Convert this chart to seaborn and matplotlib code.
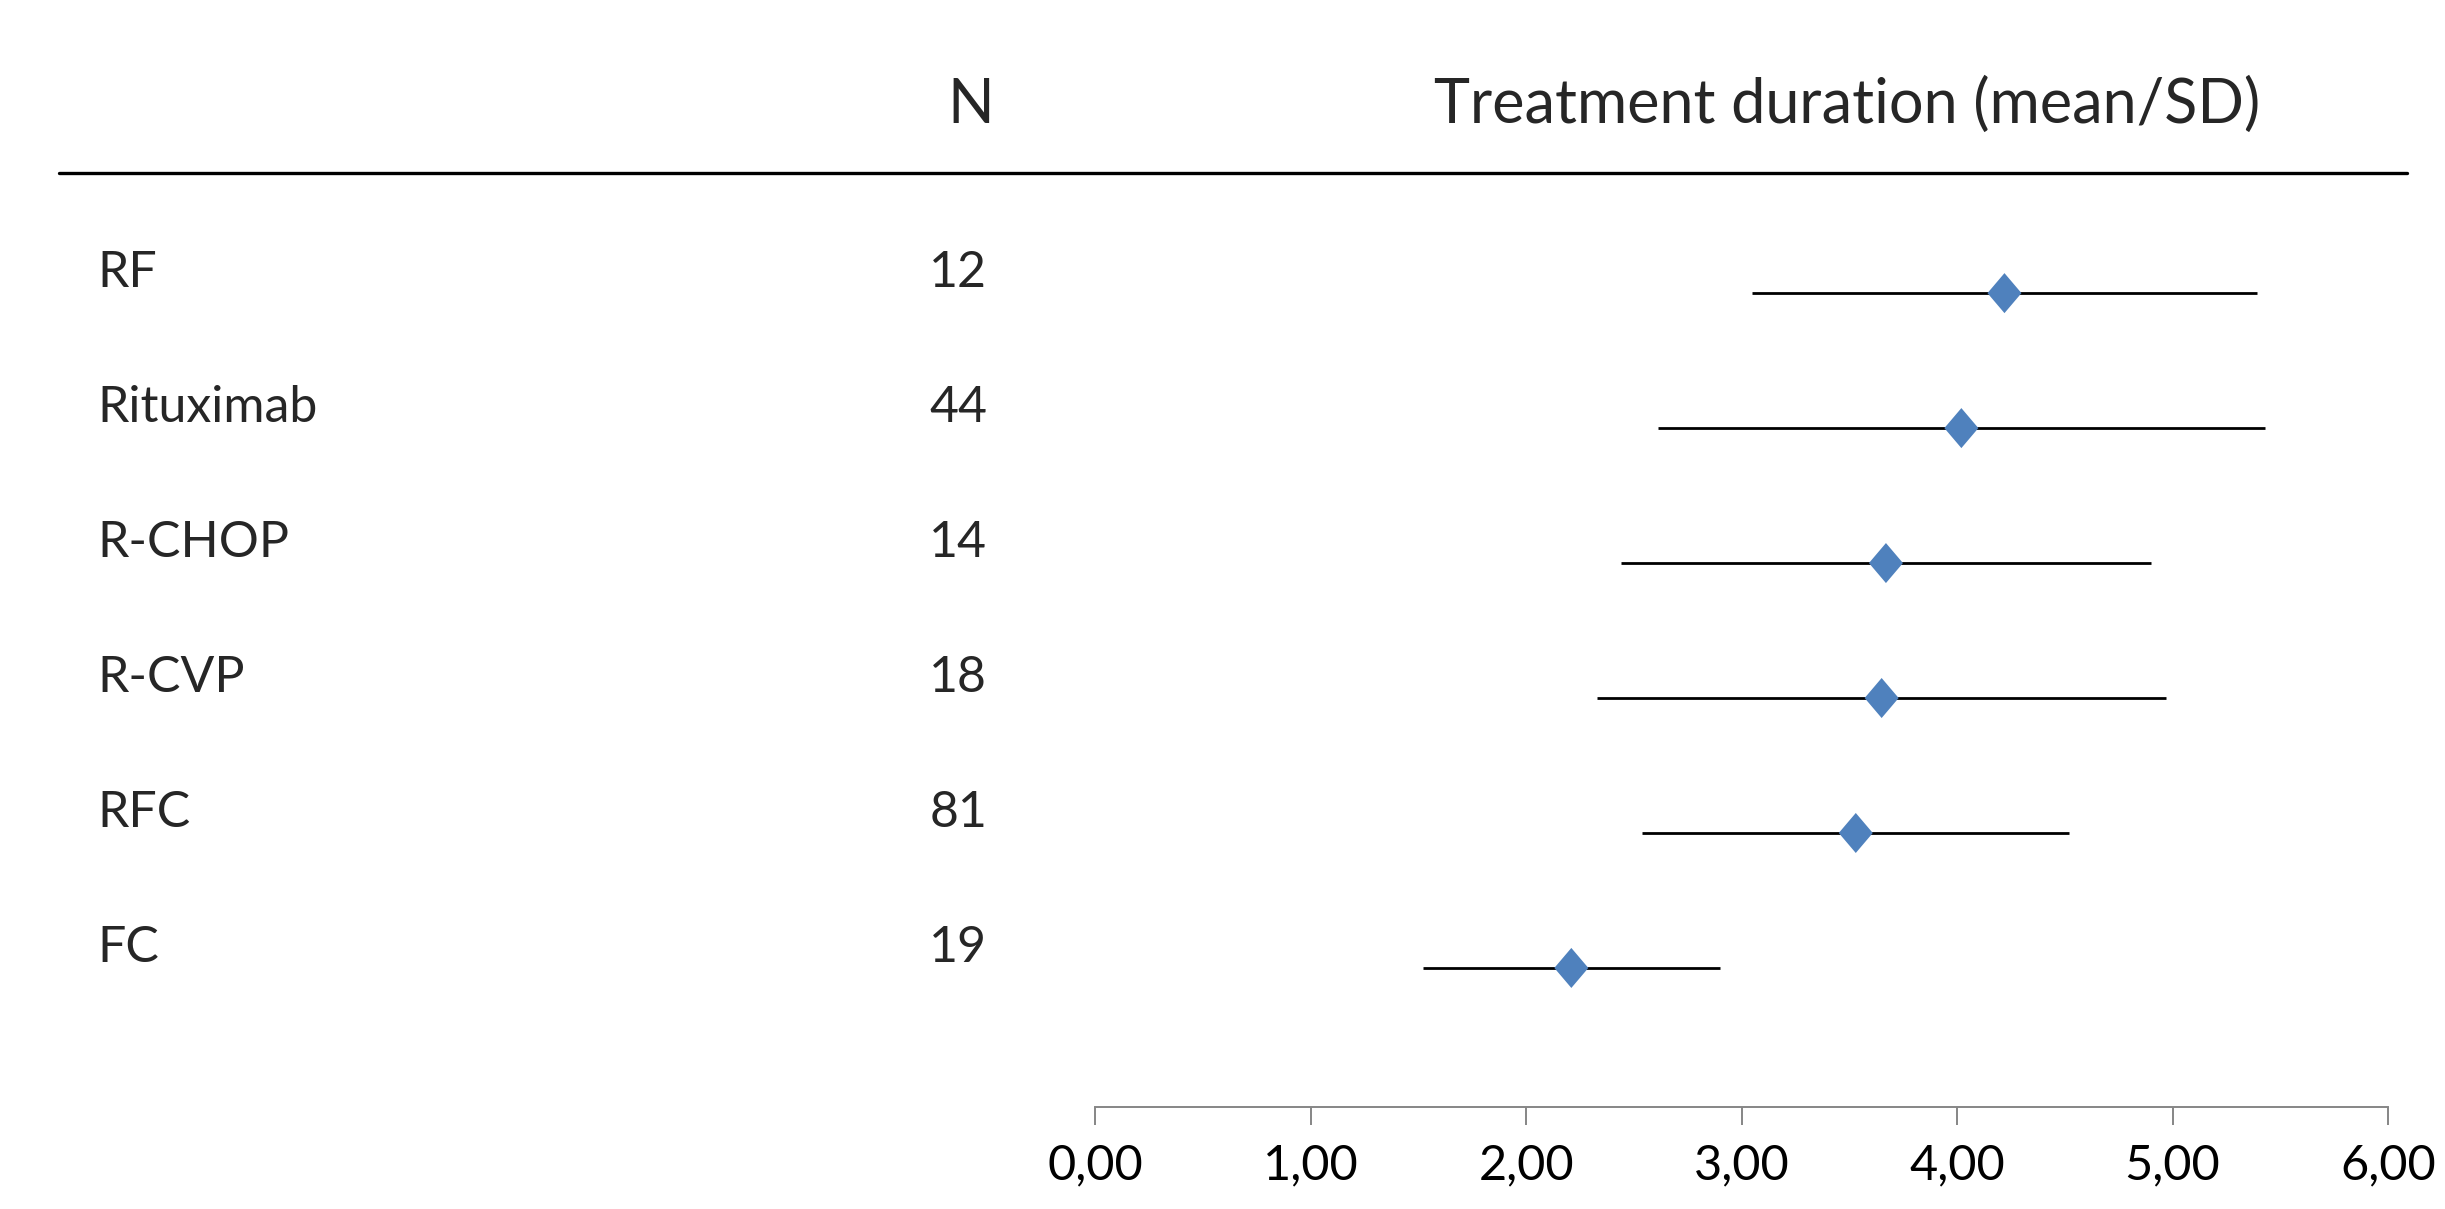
import numpy as np
import pandas as pd
import matplotlib
matplotlib.use('Agg')
import matplotlib.pyplot as plt
from matplotlib.lines import Line2D
from matplotlib.ticker import FuncFormatter
from matplotlib.transforms import blended_transform_factory
import seaborn as sns

# Werte
treatments = ['RF', 'Rituximab', 'R-CHOP', 'R-CVP', 'RFC', 'FC']
n_patients = [12, 44, 14, 18, 81, 19]
mean_duration = [4.22, 4.02, 3.67, 3.65, 3.53, 2.21]
sd_duration = [1.17, 1.41, 1.23, 1.32, 0.99, 0.69]
x_ticks = [0, 1, 2, 3, 4, 5, 6]

df = pd.DataFrame({
    'treatment': treatments,
    'n': n_patients,
    'mean': mean_duration,
    'sd': sd_duration,
})
df['row'] = np.arange(len(df))

sns.set_style('white')
plt.rcParams['font.family'] = ['Lato', 'DejaVu Sans']

fig = plt.figure(figsize=(24.45, 12.09), dpi=100)
ax = fig.add_axes([0.4479, 0.0844, 0.5288, 0.7725])

# SD-Linien
ax.hlines(df['row'], df['mean'] - df['sd'], df['mean'] + df['sd'],
          color='black', linewidth=2)

# Mittelwerte als Rauten
diamond = [(0, 1), (0.85, 0), (0, -1), (-0.85, 0)]
sns.scatterplot(data=df, x='mean', y='row', marker=diamond, s=830,
                color='#4F81BD', edgecolor='none', ax=ax, zorder=3)

ax.set_xlim(0, 6)
ax.set_ylim(6.03, -0.89)
ax.set_xticks(x_ticks)
ax.xaxis.set_major_formatter(FuncFormatter(lambda v, p: f'{v:.2f}'.replace('.', ',')))
ax.set_yticks([])
ax.set_xlabel('')
ax.set_ylabel('')
for side in ['top', 'left', 'right']:
    ax.spines[side].set_visible(False)
ax.spines['bottom'].set_color('#868686')
ax.spines['bottom'].set_linewidth(1.4)
ax.tick_params(axis='x', bottom=True, direction='out', length=13, width=1.4,
               color='#868686', labelsize=35, pad=13, labelcolor='black')

# Tabellenspalten links
row_trans = blended_transform_factory(fig.transFigure, ax.transData)
for _, r in df.iterrows():
    ax.text(0.0397, r['row'] - 0.15, r['treatment'], fontsize=36,
            va='center', ha='left', transform=row_trans)
    ax.text(0.4037, r['row'] - 0.15, str(r['n']), fontsize=36,
            va='center', ha='right', transform=row_trans)

# Kopfzeile
fig.text(0.397, 0.913, 'N', fontsize=44, ha='center', va='center')
fig.text(0.7556, 0.913, 'Treatment duration (mean/SD)', fontsize=44, ha='center', va='center')
fig.add_artist(Line2D([0.0241, 0.9845], [0.8569, 0.8569], color='black', linewidth=2.4))

fig.savefig('out.png', dpi=100)
